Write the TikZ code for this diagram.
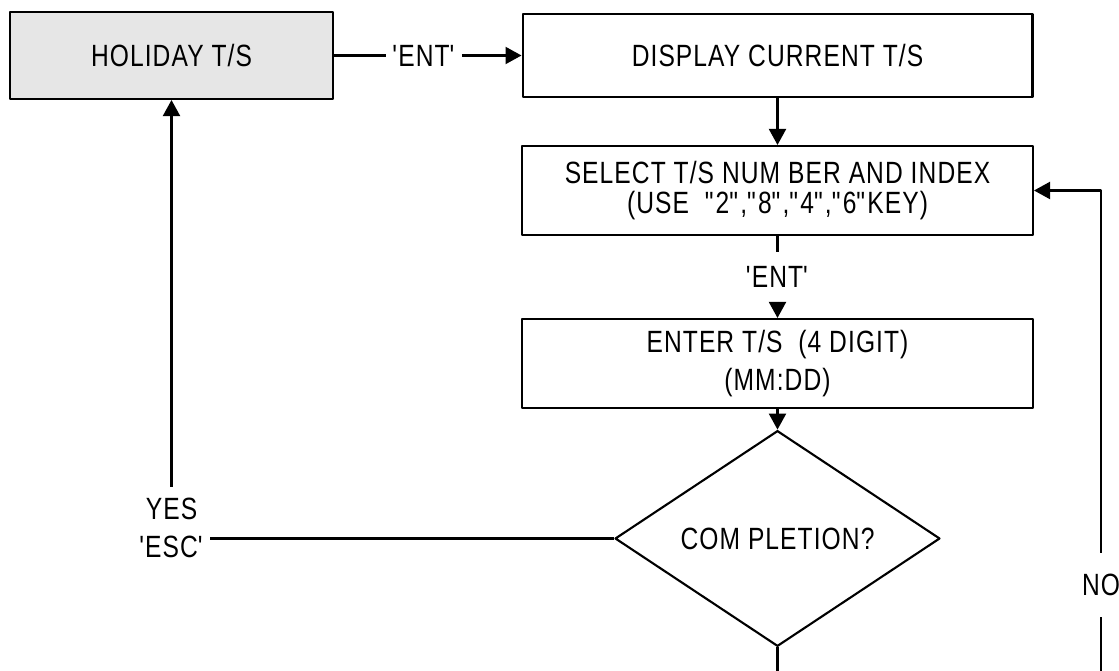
\documentclass[tikz,border=0pt]{standalone}
\usepackage{fontspec}
\setmainfont{Liberation Sans}[FakeStretch=0.8, LetterSpace=3.5]
\usetikzlibrary{arrows.meta,shapes.geometric}
\definecolor{holgray}{RGB}{230,230,230}
\newcommand{\sq}{\textquotesingle}
\newcommand{\dq}{\textquotedbl}

\begin{document}
\begin{tikzpicture}[x=0.02cm, y=-0.02cm, line join=round, line width=1.2pt,
		font=\fontsize{17.5}{17}\selectfont,
		arr/.style={-{Triangle[length=0.32cm,width=0.34cm]}},
		box/.style={draw, rectangle, align=center, inner sep=0pt},
		lbl/.style={inner xsep=3pt, inner ysep=0pt}]
	\useasboundingbox (0,0) rectangle (1119,671);
	
	\node[box, fill=holgray, minimum width=6.46cm, minimum height=1.74cm] (hol) at (171.5,55.5) {HOLIDAY T/S};
	\node[box, minimum width=10.2cm, minimum height=1.66cm] (disp) at (777.5,55.5) {DISPLAY CURRENT T/S};
	\node[box, minimum width=10.22cm, minimum height=1.78cm] (sel) at (777.5,190.5) {SELECT T/S NUM BER AND INDEX\\(USE\ \ \dq2\dq,\dq8\dq,\dq4\dq,\dq6\dq KEY)};
	\node[box, minimum width=10.22cm, minimum height=1.78cm] (entr) at (777.5,363.5) {ENTER T/S\ \ (4 DIGIT)\\[4.6pt](MM:DD)};
	\node[draw, diamond, inner sep=0pt, minimum width=6.5cm, minimum height=2.66cm] (dia) at (777.5,538.5) {COM PLETION?};
	
	\node[lbl] (ent1) at (424,55.5) {\sq ENT\sq};
	\node[lbl, inner ysep=7.5pt] (ent2) at (777.5,277) {\sq ENT\sq};
	\node[lbl, inner ysep=6pt] (yes) at (171.5,509) {YES};
	\node[lbl] (esc) at (171.5,547) {\sq ESC\sq};
	\node[lbl, inner ysep=11.5pt] (no) at (1101,585) {NO};
	
	\coordinate (cutD) at (777.5,671);
	\coordinate (cutN) at (1101,671);
	
	\draw (hol.east) -- (ent1.west);
	\draw[arr] (ent1.east) -- (disp.west);
	\draw[arr] (disp.south) -- (sel.north);
	\draw (sel.south) -- (ent2.north);
	\draw[arr] (ent2.south) -- (entr.north);
	\draw[arr] (entr.south) -- (dia.north);
	\draw (dia.west) -- (dia.west -| esc.east);
	\draw[arr] (yes.north) -- (hol.south);
	\draw (dia.south) -- (cutD);
	\draw (cutN) -- (no.south);
	\draw[arr] (no.north) |- (sel.east);
\end{tikzpicture}
\end{document}
